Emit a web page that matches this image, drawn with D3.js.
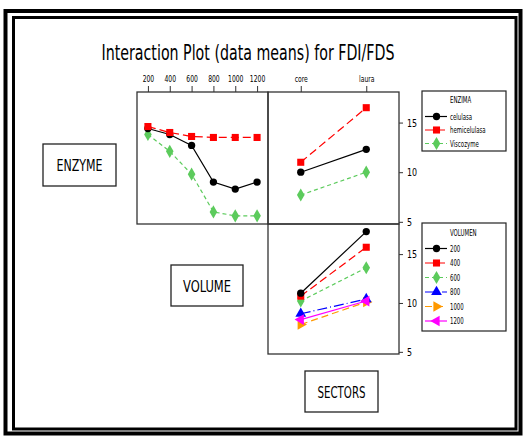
<!DOCTYPE html>
<html>
<head>
<meta charset="utf-8">
<script src="https://cdn.jsdelivr.net/npm/d3@7"></script>
<style>
  body { margin: 0; background: #fff; }
  svg { display: block; }
  text { font-family: "DejaVu Sans Condensed", "DejaVu Sans", sans-serif; fill: #000; }
</style>
</head>
<body>
<svg id="chart" width="523" height="437"></svg>
<script>
// Factor levels
const volumes = ['200', '400', '600', '800', '1000', '1200'];
const sectors = ['core', 'laura'];
const enzymes = ['celulasa', 'hemicelulasa', 'Viscozyme'];
const yTicks = [5, 10, 15];

// Means of FDI/FDS, enzyme x volume
const celulasaByVolume = [14.4, 13.8, 12.7, 9.0, 8.3, 9.0];
const hemicelulasaByVolume = [14.6, 14.0, 13.6, 13.5, 13.5, 13.5];
const viscozymeByVolume = [13.8, 12.1, 9.8, 6.0, 5.6, 5.6];

// Means, enzyme x sector
const celulasaBySector = [10.0, 12.3];
const hemicelulasaBySector = [11.0, 16.5];
const viscozymeBySector = [7.7, 10.0];

// Means, volume x sector
const v200BySector = [11.0, 17.3];
const v400BySector = [10.7, 15.7];
const v600BySector = [10.2, 13.6];
const v800BySector = [8.9, 10.4];
const v1000BySector = [7.8, 10.1];
const v1200BySector = [8.3, 10.2];

// Series styles (order = level order)
const colors = ['#000000', '#ff0000', '#5ccb5c', '#0000ff', '#ff9900', '#ff00ff'];
const dashes = [null, '8,4', '4,3', '10,3,1,3', '7,4', null];
const shapes = ['circle', 'square', 'diamond', 'up', 'right', 'left'];

const svg = d3.select('#chart');

function squeeze(sel, k) {
    sel.each(function () {
        const w = this.getComputedTextLength();
        d3.select(this).attr('textLength', w * k).attr('lengthAdjust', 'spacingAndGlyphs');
    });
}

function symbolPath(shape) {
    const map = {
        circle: d3.symbol(d3.symbolCircle, 42),
        square: d3.symbol(d3.symbolSquare, 50),
        diamond: d3.symbol(d3.symbolDiamond, 50),
        up: d3.symbol(d3.symbolTriangle, 50),
        right: d3.symbol(d3.symbolTriangle, 50),
        left: d3.symbol(d3.symbolTriangle, 50),
    };
    return map[shape]();
}
function symbolRotate(shape) {
    if (shape === 'right') return 90;
    if (shape === 'left') return -90;
    return 0;
}

// Outer double frame
svg.append('rect').attr('x', 5.5).attr('y', 11).attr('width', 515).attr('height', 422.5)
    .attr('fill', 'none').attr('stroke', '#000').attr('stroke-width', 4);
svg.append('rect').attr('x', 13.5).attr('y', 17.5).attr('width', 502.5).attr('height', 411.5)
    .attr('fill', 'none').attr('stroke', '#000').attr('stroke-width', 3);

// Title
svg.append('text')
    .attr('x', 248).attr('y', 60)
    .attr('text-anchor', 'middle')
    .style('font-size', '22px')
    .text('Interaction Plot (data means) for FDI/FDS')
    .attr('textLength', 293).attr('lengthAdjust', 'spacingAndGlyphs');

// Panel geometry
const left0 = 137, mid = 268, right0 = 399;
const top0 = 92, midY = 224, bottom0 = 354;

const xVol = d3.scalePoint().domain(volumes).range([left0, mid]).padding(0.5);
const xSec = d3.scalePoint().domain(sectors).range([mid, right0]).padding(0.5);
const yTop = d3.scaleLinear().domain([4.78, 18.08]).range([midY, top0]);
const yBot = d3.scaleLinear().domain([4.78, 18.08]).range([bottom0, midY]);

// Panel borders
const frame = svg.append('g').attr('fill', 'none').attr('stroke', '#333').attr('stroke-width', 1.3);
frame.append('rect').attr('x', left0).attr('y', top0).attr('width', mid - left0).attr('height', midY - top0);
frame.append('rect').attr('x', mid).attr('y', top0).attr('width', right0 - mid).attr('height', midY - top0);
frame.append('rect').attr('x', mid).attr('y', midY).attr('width', right0 - mid).attr('height', bottom0 - midY);

// Axes
function styleAxis(g, fs, k) {
    g.select('.domain').remove();
    g.selectAll('.tick line').attr('stroke', '#333');
    g.selectAll('.tick text').style('font-size', fs + 'px').attr('fill', '#000')
        .style('font-family', '"DejaVu Sans Condensed", "DejaVu Sans", sans-serif');
    squeeze(g.selectAll('.tick text'), k);
}

const axVol = svg.append('g').attr('transform', `translate(0,${top0})`)
    .call(d3.axisTop(xVol).tickSize(6).tickPadding(4));
styleAxis(axVol, 9, 0.75);

const axSec = svg.append('g').attr('transform', `translate(0,${top0})`)
    .call(d3.axisTop(xSec).tickSize(6).tickPadding(4));
styleAxis(axSec, 9, 0.75);

const axYTop = svg.append('g').attr('transform', `translate(${right0},0)`)
    .call(d3.axisRight(yTop).tickValues(yTicks).tickSize(4).tickPadding(4));
styleAxis(axYTop, 11, 0.8);

const axYBot = svg.append('g').attr('transform', `translate(${right0},0)`)
    .call(d3.axisRight(yBot).tickValues(yTicks).tickSize(4).tickPadding(4));
styleAxis(axYBot, 11, 0.8);

// Series drawing
function drawSeries(levels, x, y, seriesList, styleIdx) {
    const g = svg.append('g');
    seriesList.forEach((vals, i) => {
        const si = styleIdx[i];
        const pts = levels.map((l, j) => [x(l), y(vals[j])]);
        g.append('path')
            .attr('d', d3.line()(pts))
            .attr('fill', 'none')
            .attr('stroke', colors[si])
            .attr('stroke-width', 1.2)
            .attr('stroke-dasharray', dashes[si]);
        g.selectAll(null).data(pts).join('path')
            .attr('d', symbolPath(shapes[si]))
            .attr('transform', d => `translate(${d[0]},${d[1]}) rotate(${symbolRotate(shapes[si])})`)
            .attr('fill', colors[si]);
    });
}

// draw hemicelulasa last so it sits on top where the lines meet
drawSeries(volumes, xVol, yTop, [viscozymeByVolume, celulasaByVolume, hemicelulasaByVolume], [2, 0, 1]);
drawSeries(sectors, xSec, yTop, [viscozymeBySector, celulasaBySector, hemicelulasaBySector], [2, 0, 1]);
drawSeries(sectors, xSec, yBot,
    [v1000BySector, v800BySector, v1200BySector, v600BySector, v400BySector, v200BySector],
    [4, 3, 5, 2, 1, 0]);

// Factor label boxes
function labelBox(x, y, w, h, label, tw) {
    svg.append('rect').attr('x', x).attr('y', y).attr('width', w).attr('height', h)
        .attr('fill', '#fff').attr('stroke', '#222').attr('stroke-width', 1.3);
    svg.append('text')
        .attr('x', x + w / 2).attr('y', y + h / 2 + 6)
        .attr('text-anchor', 'middle')
        .style('font-size', '16px')
        .text(label)
        .attr('textLength', tw).attr('lengthAdjust', 'spacingAndGlyphs');
}
labelBox(43, 144, 73, 42, 'ENZYME', 46);
labelBox(171, 265, 72, 41, 'VOLUME', 48);
labelBox(305, 371, 73, 41, 'SECTORS', 48);

// Legends
function legend(x, y, w, h, title, labels, styleIdx, titleY, rowY, step) {
    const g = svg.append('g');
    g.append('rect').attr('x', x).attr('y', y).attr('width', w).attr('height', h)
        .attr('fill', '#fff').attr('stroke', '#222').attr('stroke-width', 1.2);
    const t = g.append('text').attr('x', x + 28).attr('y', titleY + 3)
        .style('font-size', '8px').text(title);
    squeeze(t, 0.75);
    labels.forEach((lab, i) => {
        const si = styleIdx[i];
        const cy = rowY + i * step;
        g.append('line')
            .attr('x1', x + 3).attr('x2', x + 25).attr('y1', cy).attr('y2', cy)
            .attr('stroke', colors[si]).attr('stroke-width', 1.2)
            .attr('stroke-dasharray', dashes[si]);
        g.append('path')
            .attr('d', symbolPath(shapes[si]))
            .attr('transform', `translate(${x + 14.5},${cy}) rotate(${symbolRotate(shapes[si])})`)
            .attr('fill', colors[si]);
        const tx = g.append('text').attr('x', x + 28).attr('y', cy + 3)
            .style('font-size', '8px').text(lab);
        squeeze(tx, 0.75);
    });
}
legend(422, 91, 84, 60, 'ENZIMA', enzymes, [0, 1, 2], 100, 116.5, 13.5);
legend(422, 223, 84, 108, 'VOLUMEN', volumes, [0, 1, 2, 3, 4, 5], 233, 248.5, 14.5);
</script>
</body>
</html>
